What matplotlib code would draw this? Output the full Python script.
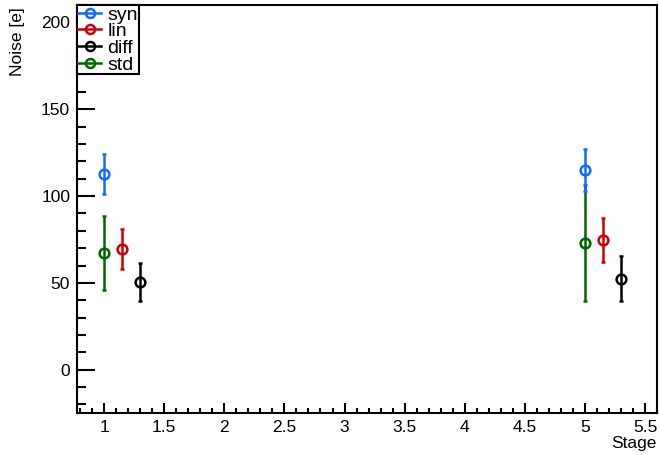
import matplotlib
matplotlib.use('Agg')
from matplotlib import pyplot as plt
from matplotlib.ticker import MultipleLocator
from matplotlib.lines import Line2D

plt.rcParams['font.family'] = ['Liberation Sans', 'DejaVu Sans']

series = ['syn', 'lin', 'diff', 'std']
colors = ['#0f6cff', '#cc0000', '#000000', '#006600']
stage_x = {'syn': [1.0, 5.0], 'lin': [1.15, 5.15], 'diff': [1.3, 5.3], 'std': [1.0, 5.0]}
noise = {'syn': [112.5, 115.0], 'lin': [69.5, 74.7], 'diff': [50.6, 52.3], 'std': [67.3, 73.0]}
noise_err = {'syn': [11.6, 12.2], 'lin': [11.3, 12.6], 'diff': [11.0, 13.0], 'std': [21.4, 33.2]}

fig = plt.figure(figsize=(6.59, 4.55), dpi=100)
ax = fig.add_axes([0.117, 0.092, 0.880, 0.897])

# draw std first so syn sits on top of it like in the reference
for name in ['std', 'syn', 'lin', 'diff']:
    c = colors[series.index(name)]
    ax.errorbar(stage_x[name], noise[name], yerr=noise_err[name], fmt='o', color=c,
                mfc='none', mec=c, ms=7, mew=1.8, elinewidth=1.8, capsize=1.5, capthick=1.8)

ax.set_xlim(0.775, 5.6)
ax.set_ylim(-25, 210)
ax.xaxis.set_major_locator(MultipleLocator(0.5))
ax.xaxis.set_minor_locator(MultipleLocator(0.1))
ax.yaxis.set_major_locator(MultipleLocator(50))
ax.yaxis.set_minor_locator(MultipleLocator(10))
ax.set_xticks([1, 1.5, 2, 2.5, 3, 3.5, 4, 4.5, 5, 5.5])
ax.set_xticklabels(['1', '1.5', '2', '2.5', '3', '3.5', '4', '4.5', '5', '5.5'])
ax.tick_params(which='both', direction='in', top=False, right=False, labelsize=12.5, width=1.5)
ax.tick_params(axis='y', which='major', length=13, pad=5)
ax.tick_params(axis='y', which='minor', length=6.5)
ax.tick_params(axis='x', which='major', length=7.5, pad=5)
ax.tick_params(axis='x', which='minor', length=3.8)
for s in ax.spines.values():
    s.set_linewidth(1.5)

fig.text(0.996, 0.025, 'Stage', fontsize=12.5, ha='right', va='center')
fig.text(0.027, 0.985, 'Noise [e]', fontsize=12.5, ha='center', va='top', rotation=90)

handles = [Line2D([0], [0], color=c, marker='o', mfc='none', mec=c, ms=6.5, mew=1.8, lw=1.8)
           for c in colors]
leg = ax.legend(handles, series, loc='upper left', bbox_to_anchor=(0.0, 1.0),
                fontsize=14, handlelength=1.2, handletextpad=0.3, borderpad=0.05,
                labelspacing=-0.05, borderaxespad=0.0, fancybox=False, framealpha=1)
leg.get_frame().set_edgecolor('black')
leg.get_frame().set_linewidth(1.5)

fig.savefig('out.png', dpi=100)
